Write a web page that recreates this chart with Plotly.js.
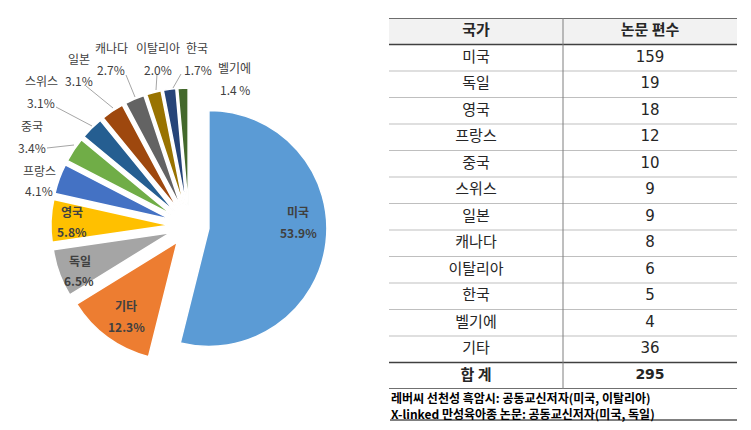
<!DOCTYPE html>
<html>
<head>
<meta charset="utf-8">
<script src="https://cdn.plot.ly/plotly-3.0.1.min.js"></script>
<style>html,body{margin:0;padding:0;background:#fff;}#chart{width:751px;height:430px;}</style>
</head>
<body>
<div id="chart"></div>
<script>
// ---- data ----
const pieLabels = ['미국','기타','독일','영국','프랑스','중국','스위스','일본','캐나다','이탈리아','한국','벨기에'];
const piePercents = [53.9,12.3,6.5,5.8,4.1,3.4,3.1,3.1,2.7,2.0,1.7,1.4];
const pieColors = ['#5B9BD5','#ED7D31','#A5A5A5','#FFC000','#4472C4','#70AD47','#255E91','#9E480E','#636363','#997300','#264478','#43682B'];

const tableHeader = ['국가','논문 편수'];
const tableCountries = ['미국','독일','영국','프랑스','중국','스위스','일본','캐나다','이탈리아','한국','벨기에','기타'];
const tableCounts = [159,19,18,12,10,9,9,8,6,5,4,36];
const totalLabel = '합 계';
const footnotes = ['레버씨 선천성 흑암시: 공동교신저자(미국, 이탈리아)','X-linked 만성육아종 논문: 공동교신저자(미국, 독일)'];

// ---- layout helpers (pixel -> paper) ----
const W = 751, H = 430;
const px = x => x / W;
const py = y => 1 - y / H;
const FONT = 'Noto Sans CJK KR, sans-serif';
const NUMFONT = 'DejaVu Sans, Noto Sans CJK KR, sans-serif';

// pie geometry
const pieCx = 189, pieCy = 226, pieR = 118, pull = 0.17;
const half = pieR * (1 + pull);

// label positions: [nameX, nameY, pctX, pctY, inside?]
const labelPos = [
  [298,211,298,232,true],
  [126,305,126,326,true],
  [80,260,79,280,true],
  [72,211,72,231,true],
  [39,170,39,191,false],
  [32,125,32,147,false],
  [41,80,41,102,false],
  [79,59,79,80,false],
  [111,47,111,69,false],
  [158,47,158,69,false],
  [197,47,198,69,false],
  [234,68,235,89,false]
];
const pctSuffix = {11:' %'};
const leaders = {
  5: [47,148,74,145],
  6: [56,107,92,126],
  7: [86,86,113,108],
  8: [126,75,135,97],
  9: [157,74,156,90],
  10:[181,74,173,88]
};

const annotations = [];
const shapes = [];
pieLabels.forEach((lab, i) => {
  const p = labelPos[i];
  const inside = p[4];
  const f = {family: FONT, size: 12, color: '#404040'};
  annotations.push({xref:'paper', yref:'paper', x:px(p[0]), y:py(p[1]), text: inside ? '<b>'+lab+'</b>' : lab,
    showarrow:false, xanchor:'center', yanchor:'middle', font:f});
  const pt = piePercents[i].toFixed(1) + (pctSuffix[i] || '%');
  annotations.push({xref:'paper', yref:'paper', x:px(p[2]), y:py(p[3]), text: inside ? '<b>'+pt+'</b>' : pt,
    showarrow:false, xanchor:'center', yanchor:'middle', font:f});
  if (leaders[i]) {
    const l = leaders[i];
    shapes.push({type:'line', xref:'paper', yref:'paper', x0:px(l[0]), y0:py(l[1]), x1:px(l[2]), y1:py(l[3]),
      line:{color:'#a6a6a6', width:1}});
  }
});

// table geometry
const tblLeft = 389, tblRight = 737, tblTop = 18, tblBottom = 389;
const nRows = tableCountries.length + 2;

// header fill
shapes.push({type:'rect', xref:'x', yref:'y', x0:0, x1:2, y0:0, y1:1, fillcolor:'#f2f2f2', line:{width:0}, layer:'below'});
// horizontal rules
for (let r = 0; r <= nRows; r++) {
  const dark = (r === 0 || r === 1 || r === nRows - 1 || r === nRows);
  shapes.push({type:'line', xref:'x', yref:'y', x0:0, x1:2, y0:r, y1:r,
    line:{color: dark ? '#404040' : '#bfbfbf', width: dark ? 1.5 : 1}});
}
// vertical divider
shapes.push({type:'line', xref:'x', yref:'y', x0:1, x1:1, y0:0, y1:nRows, line:{color:'#7f7f7f', width:1}});

// footnotes
footnotes.forEach((t, i) => {
  annotations.push({xref:'paper', yref:'paper', x:px(390), y:py(397 + i*16), text:'<b>'+t+'</b>',
    showarrow:false, xanchor:'left', yanchor:'middle', align:'left', borderpad:0,
    font:{family:FONT, size:12, color:'#000'}});
});
shapes.push({type:'line', xref:'paper', yref:'paper', x0:px(390), x1:px(737), y0:py(420), y1:py(420),
  line:{color:'#000', width:1}});

// table text traces
const nameY = tableCountries.map((c, i) => i + 1.5);
const total = tableCounts.reduce((a, b) => a + b, 0);

const traces = [
  {
    type:'pie', labels:pieLabels, values:piePercents, sort:false, direction:'clockwise', rotation:0,
    pull: pieLabels.map(() => pull), textinfo:'none', hoverinfo:'label+percent',
    marker:{colors:pieColors, line:{color:'#ffffff', width:1.5}},
    domain:{x:[px(pieCx - half), px(pieCx + half)], y:[py(pieCy + half), py(pieCy - half)]},
    showlegend:false
  },
  {
    type:'scatter', mode:'text', x:[0.5, 1.5], y:[0.5, 0.5], text:tableHeader.map(t => '<b>'+t+'</b>'),
    textfont:{family:FONT, size:15, color:'#262626'}, xaxis:'x', yaxis:'y', hoverinfo:'none', showlegend:false
  },
  {
    type:'scatter', mode:'text', x:tableCountries.map(() => 0.5), y:nameY, text:tableCountries,
    textfont:{family:FONT, size:15, color:'#262626'}, xaxis:'x', yaxis:'y', hoverinfo:'none', showlegend:false
  },
  {
    type:'scatter', mode:'text', x:tableCounts.map(() => 1.5), y:nameY, text:tableCounts.map(String),
    textfont:{family:NUMFONT, size:15, color:'#262626'}, xaxis:'x', yaxis:'y', hoverinfo:'none', showlegend:false
  },
  {
    type:'scatter', mode:'text', x:[0.5], y:[nRows - 0.5], text:['<b>'+totalLabel+'</b>'],
    textfont:{family:FONT, size:15, color:'#262626'}, xaxis:'x', yaxis:'y', hoverinfo:'none', showlegend:false
  },
  {
    type:'scatter', mode:'text', x:[1.5], y:[nRows - 0.5], text:['<b>'+total+'</b>'],
    textfont:{family:NUMFONT, size:14, color:'#262626'}, xaxis:'x', yaxis:'y', hoverinfo:'none', showlegend:false
  }
];

const layout = {
  width:W, height:H, margin:{l:0, r:0, t:0, b:0},
  paper_bgcolor:'#ffffff', plot_bgcolor:'rgba(0,0,0,0)',
  showlegend:false,
  xaxis:{domain:[px(tblLeft), px(tblRight)], range:[0, 2], visible:false, fixedrange:true},
  yaxis:{domain:[py(tblBottom), py(tblTop)], range:[nRows, 0], visible:false, fixedrange:true},
  shapes:shapes,
  annotations:annotations
};

Plotly.newPlot('chart', traces, layout, {displayModeBar:false, staticPlot:true});
</script>
</body>
</html>
